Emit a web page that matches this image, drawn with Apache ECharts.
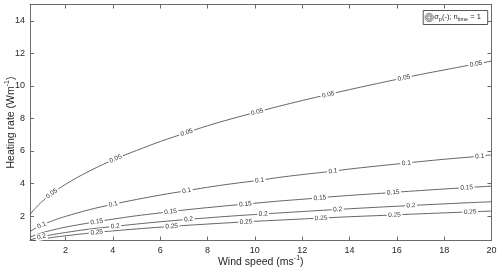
<!DOCTYPE html>
<html>
<head>
<meta charset="utf-8">
<script src="https://cdn.jsdelivr.net/npm/echarts@6/dist/echarts.min.js"></script>
<style>
html,body{margin:0;padding:0;background:#fff;}
#c{width:500px;height:273px;}
</style>
</head>
<body>
<div id="c"></div>
<script>
// ---- data ----
const levels = ['0.05', '0.1', '0.15', '0.2', '0.25'];

const speed05 = [0.5,0.75,1,1.42,2,3,4.12,5,6,7.12,8,9,10.1,11,12,13.1,14,15,16.3,17,18,19.35,20];
const rate05  = [2.1,2.52,2.88,3.38,3.95,4.76,5.52,6.03,6.58,7.13,7.55,7.97,8.4,8.74,9.1,9.47,9.77,10.09,10.49,10.7,10.98,11.35,11.52];
const labelAt05 = [1.42,4.12,7.12,10.1,13.1,16.3,19.35];

const speed10 = [0.5,0.75,0.99,1.5,2,3,4.02,5,6,7.12,8,9,10.2,11,12,13.3,14,15,16.4,17,18,19.5,20];
const rate10  = [1.05,1.27,1.44,1.74,1.98,2.39,2.73,3.02,3.29,3.56,3.77,3.98,4.2,4.37,4.55,4.76,4.89,5.05,5.26,5.35,5.49,5.68,5.76];
const labelAt10 = [0.99,4.02,7.12,10.2,13.3,16.4,19.5];

const speed15 = [0.5,0.75,1,1.5,2,3.32,4,5,6.44,7,8,9.6,10,11,12.75,13,14,15.85,16,17,18.95,20];
const rate15  = [0.7,0.85,0.97,1.16,1.32,1.66,1.81,2.02,2.27,2.37,2.52,2.74,2.79,2.92,3.12,3.16,3.27,3.45,3.47,3.57,3.75,3.84];
const labelAt15 = [3.32,6.44,9.6,12.75,15.85,18.95];

const speed20 = [0.5,0.75,0.99,1.5,2,3,4.1,5,6,7.2,8,9,10.35,11,12,13.5,14,15,16.6,17,18,19,20];
const rate20  = [0.53,0.64,0.73,0.87,0.99,1.2,1.37,1.51,1.65,1.8,1.89,2.0,2.13,2.19,2.28,2.41,2.45,2.53,2.65,2.68,2.75,2.82,2.88];
const labelAt20 = [0.99,4.1,7.2,10.35,13.5,16.6];

const speed25 = [0.5,0.75,1,1.5,2,3.32,4,5,6.49,7,8,9.63,10,11,12.8,13,14,15.9,16,17,19.1,20];
const rate25  = [0.42,0.51,0.58,0.7,0.79,1.0,1.09,1.21,1.37,1.42,1.51,1.65,1.68,1.75,1.88,1.89,1.96,2.07,2.08,2.14,2.26,2.31];
const labelAt25 = [3.32,6.49,9.63,12.8,15.9,19.1];

const xTicks = [2,4,6,8,10,12,14,16,18,20];
const yTicks = [2,4,6,8,10,12,14];

const curves = [
  {level: levels[0], speed: speed05, rate: rate05, labelAt: labelAt05},
  {level: levels[1], speed: speed10, rate: rate10, labelAt: labelAt10},
  {level: levels[2], speed: speed15, rate: rate15, labelAt: labelAt15},
  {level: levels[3], speed: speed20, rate: rate20, labelAt: labelAt20},
  {level: levels[4], speed: speed25, rate: rate25, labelAt: labelAt25}
];

// ---- chart ----
const FONT = 'Liberation Sans, Arial, Helvetica, sans-serif';
const AXIS_COLOR = '#6b6b6b';
const TEXT_COLOR = '#262626';
const LINE_COLOR = '#555555';

const chart = echarts.init(document.getElementById('c'), null, {renderer: 'canvas'});

function buildSeries(rot) {
  return curves.map((c, si) => ({
    type: 'line',
    name: c.level,
    symbol: 'none',
    smooth: 0.4,
    clip: true,
    silent: true,
    emphasis: {disabled: true},
    lineStyle: {color: LINE_COLOR, width: 0.9},
    itemStyle: {color: 'rgba(0,0,0,0)'},
    data: c.speed.map((u, i) => {
      const k = c.labelAt.indexOf(u);
      if (k < 0) return [u, c.rate[i]];
      return {
        value: [u, c.rate[i]],
        symbol: 'circle',
        symbolSize: 1,
        itemStyle: {color: 'rgba(0,0,0,0)', borderWidth: 0},
        label: {
          show: true,
          position: 'inside',
          formatter: c.level,
          rotate: rot ? rot[si][k] : 0,
          fontFamily: FONT,
          fontSize: 6.5,
          color: '#333',
          backgroundColor: '#ffffff',
          padding: [0, 1.5, 0, 1.5]
        }
      };
    })
  }));
}

function tickAxis(extra) {
  return Object.assign({
    type: 'value',
    axisLine: {show: true, onZero: false, lineStyle: {color: AXIS_COLOR, width: 1}},
    splitLine: {show: false}
  }, extra);
}

const nameStyle = {
  color: TEXT_COLOR, fontFamily: FONT, fontSize: 10.5, lineHeight: 14,
  rich: {sup: {fontSize: 7, verticalAlign: 'top', lineHeight: 14, padding: [0, 0, 5, 0], color: TEXT_COLOR, fontFamily: FONT}}
};

const baseOption = {
  animation: false,
  backgroundColor: '#ffffff',
  grid: {left: 30, right: 8.5, top: 4.5, bottom: 32.5, containLabel: false, outerBoundsMode: 'none'},
  xAxis: [
    tickAxis({
      min: 0.5, max: 20, position: 'bottom',
      axisTick: {show: true, inside: true, length: 4, customValues: xTicks, lineStyle: {color: AXIS_COLOR}},
      axisLabel: {show: true, customValues: xTicks, color: TEXT_COLOR, fontFamily: FONT, fontSize: 9, margin: 6},
      name: 'Wind speed (ms{sup|-1})',
      nameLocation: 'middle',
      nameGap: 14.5,
      nameMoveOverlap: false,
      nameTextStyle: nameStyle
    }),
    tickAxis({
      min: 0.5, max: 20, position: 'top',
      axisTick: {show: true, inside: true, length: 4, customValues: xTicks, lineStyle: {color: AXIS_COLOR}},
      axisLabel: {show: false}
    })
  ],
  yAxis: [
    tickAxis({
      min: 0.5, max: 15, position: 'left',
      axisTick: {show: true, inside: true, length: 4, customValues: yTicks, lineStyle: {color: AXIS_COLOR}},
      axisLabel: {show: true, customValues: yTicks, color: TEXT_COLOR, fontFamily: FONT, fontSize: 9, margin: 5},
      name: 'Heating rate (Wm{sup|-1})',
      nameLocation: 'middle',
      nameGap: 12,
      nameMoveOverlap: false,
      nameRotate: 90,
      nameTextStyle: nameStyle
    }),
    tickAxis({
      min: 0.5, max: 15, position: 'right',
      axisTick: {show: true, inside: true, length: 4, customValues: yTicks, lineStyle: {color: AXIS_COLOR}},
      axisLabel: {show: false}
    })
  ],
  graphic: [
    {
      type: 'group', left: 422.5, top: 10, silent: true,
      children: [
        {type: 'rect', shape: {x: 0, y: 0, width: 64.5, height: 14}, style: {fill: '#ffffff', stroke: '#555', lineWidth: 1}},
        {type: 'circle', shape: {cx: 6, cy: 7, r: 4.2}, style: {fill: 'none', stroke: '#666', lineWidth: 0.8}},
        {type: 'circle', shape: {cx: 6, cy: 7, r: 2.9}, style: {fill: 'none', stroke: '#666', lineWidth: 0.8}},
        {type: 'circle', shape: {cx: 6, cy: 7, r: 1.6}, style: {fill: 'none', stroke: '#666', lineWidth: 0.8}},
        {
          type: 'text', x: 11, y: 1.5,
          style: {
            text: '{m|σ}{s|p}{m|(-); n}{s|time}{m| = 1}',
            rich: {
              m: {fontSize: 7.5, fontFamily: FONT, fill: TEXT_COLOR, lineHeight: 10},
              s: {fontSize: 5.5, fontFamily: FONT, fill: TEXT_COLOR, lineHeight: 6, verticalAlign: 'bottom'}
            }
          }
        }
      ]
    }
  ],
  series: buildSeries(null)
};

chart.setOption(baseOption);

// compute label rotations from the axes' own scales
const rot = curves.map(c => c.labelAt.map(u => {
  const i = c.speed.indexOf(u);
  const a = chart.convertToPixel({xAxisIndex: 0, yAxisIndex: 0}, [c.speed[i - 1], c.rate[i - 1]]);
  const b = chart.convertToPixel({xAxisIndex: 0, yAxisIndex: 0}, [c.speed[i + 1], c.rate[i + 1]]);
  return Math.atan2(a[1] - b[1], b[0] - a[0]) * 180 / Math.PI;
}));

chart.setOption({series: buildSeries(rot)});
</script>
</body>
</html>
